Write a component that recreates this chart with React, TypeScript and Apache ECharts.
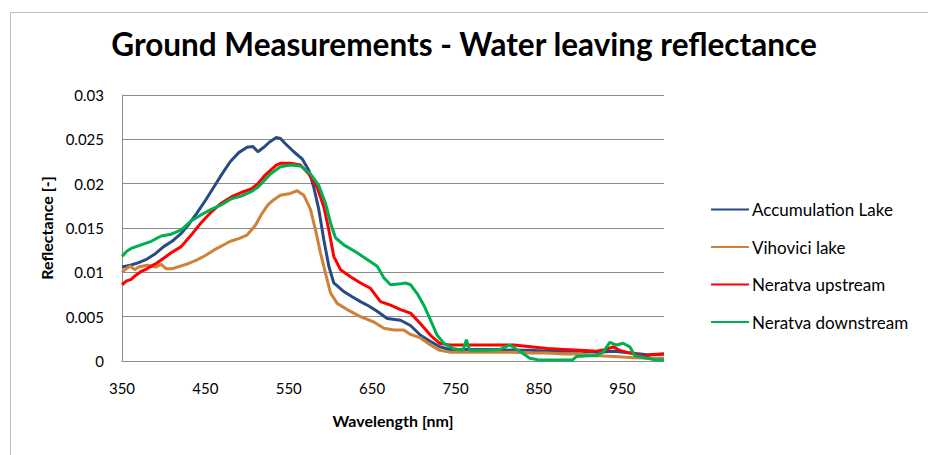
import React, { useEffect, useRef } from "react";
import * as echarts from "echarts";

const TITLE = "Ground Measurements - Water leaving reflectance";
const X_NAME = "Wavelength [nm]";
const Y_NAME = "Reflectance [-]";
const SERIES_NAMES = ["Accumulation Lake", "Vihovici lake", "Neratva upstream", "Neratva downstream"];
const COLORS = ["#264C81", "#CF8139", "#FF0000", "#00B050"];
const X_LABELS = [350, 450, 550, 650, 750, 850, 950];

const accWl = [350, 360, 370, 380, 390, 400, 410, 420, 430, 440, 450, 460, 470, 480, 490, 500, 507, 513, 520, 527, 535, 540, 546, 556, 566, 574, 580, 586, 592, 598, 604, 615, 625, 636, 646, 656, 668, 684, 696, 708, 720, 731, 743, 760, 780, 800, 820, 840, 860, 880, 900, 920, 940, 960, 980, 1000];
const accVal = [0.0106, 0.0108, 0.0111, 0.0115, 0.0121, 0.0129, 0.0135, 0.0143, 0.0154, 0.0167, 0.0181, 0.0196, 0.0211, 0.0225, 0.0235, 0.0241, 0.0242, 0.0236, 0.0241, 0.0247, 0.0252, 0.0251, 0.0245, 0.0236, 0.0228, 0.0215, 0.0196, 0.0171, 0.0137, 0.0107, 0.0088, 0.0079, 0.0073, 0.0067, 0.0062, 0.0056, 0.0048, 0.0046, 0.0040, 0.0029, 0.0022, 0.0016, 0.0013, 0.0013, 0.0013, 0.0013, 0.0012, 0.0012, 0.0011, 0.0011, 0.0011, 0.0010, 0.0011, 0.0009, 0.0007, 0.0008];

const vihWl = [350, 355, 360, 365, 370, 380, 390, 397, 403, 410, 420, 430, 440, 450, 460, 470, 480, 490, 500, 510, 517, 525, 532, 540, 552, 560, 568, 576, 582, 588, 594, 600, 608, 620, 636, 652, 664, 676, 688, 696, 708, 720, 731, 743, 760, 780, 800, 820, 840, 860, 880, 900, 920, 940, 960, 980, 1000];
const vihVal = [0.0100, 0.0104, 0.0107, 0.0103, 0.0106, 0.0108, 0.0106, 0.0109, 0.0104, 0.0104, 0.0107, 0.0110, 0.0114, 0.0119, 0.0125, 0.0130, 0.0135, 0.0138, 0.0142, 0.0153, 0.0165, 0.0176, 0.0182, 0.0187, 0.0189, 0.0192, 0.0187, 0.0171, 0.0148, 0.0122, 0.0099, 0.0077, 0.0065, 0.0058, 0.0050, 0.0044, 0.0037, 0.0035, 0.0035, 0.0030, 0.0026, 0.0018, 0.0012, 0.0010, 0.0010, 0.0010, 0.0010, 0.0010, 0.0009, 0.0009, 0.0008, 0.0008, 0.0006, 0.0005, 0.0004, 0.0003, 0.0003];

const upWl = [350, 355, 361, 367, 373, 380, 385, 391, 397, 409, 421, 433, 445, 457, 469, 481, 493, 505, 513, 521, 528, 535, 540, 552, 564, 574, 584, 592, 598, 604, 612, 624, 636, 648, 660, 672, 684, 696, 708, 720, 731, 743, 760, 780, 800, 820, 840, 860, 880, 900, 919, 930, 939, 947, 955, 965, 975, 985, 1000];
const upVal = [0.0086, 0.0090, 0.0092, 0.0097, 0.0101, 0.0104, 0.0107, 0.0110, 0.0114, 0.0122, 0.0129, 0.0142, 0.0156, 0.0168, 0.0178, 0.0185, 0.0190, 0.0194, 0.0200, 0.0209, 0.0215, 0.0221, 0.0223, 0.0223, 0.0221, 0.0211, 0.0196, 0.0174, 0.0148, 0.0118, 0.0103, 0.0095, 0.0088, 0.0082, 0.0067, 0.0063, 0.0058, 0.0054, 0.0042, 0.0029, 0.0020, 0.0018, 0.0018, 0.0018, 0.0018, 0.0018, 0.0016, 0.0014, 0.0013, 0.0012, 0.0011, 0.0013, 0.0016, 0.0012, 0.0010, 0.0008, 0.0005, 0.0007, 0.0008];

const downWl = [350, 356, 361, 367, 373, 385, 397, 409, 421, 433, 445, 457, 469, 481, 493, 505, 513, 521, 528, 540, 552, 564, 576, 586, 594, 600, 606, 616, 632, 648, 656, 664, 672, 684, 690, 696, 704, 712, 720, 728, 736, 747, 759, 763, 767, 783, 803, 815, 827, 839, 851, 870, 890, 895, 910, 919, 927, 935, 943, 951, 959, 965, 975, 991, 1000];
const downVal = [0.0118, 0.0124, 0.0127, 0.0129, 0.0131, 0.0135, 0.0141, 0.0143, 0.0148, 0.0158, 0.0165, 0.0171, 0.0176, 0.0183, 0.0186, 0.0191, 0.0196, 0.0204, 0.0211, 0.0219, 0.0221, 0.0220, 0.0211, 0.0198, 0.0178, 0.0156, 0.0139, 0.0131, 0.0122, 0.0112, 0.0107, 0.0094, 0.0086, 0.0087, 0.0088, 0.0086, 0.0076, 0.0063, 0.0046, 0.0029, 0.0020, 0.0014, 0.0012, 0.0024, 0.0012, 0.0012, 0.0013, 0.0018, 0.0011, 0.0003, 0.0001, 0.0001, 0.0001, 0.0005, 0.0006, 0.0006, 0.0010, 0.0021, 0.0018, 0.0020, 0.0016, 0.0006, 0.0004, 0.0001, 0.0001];

const WL = [accWl, vihWl, upWl, downWl];
const VALS = [accVal, vihVal, upVal, downVal];

export default function App() {
  const ref = useRef<HTMLDivElement>(null);
  useEffect(() => {
    if (!ref.current) return;
    const chart = echarts.init(ref.current, null, { renderer: "svg" });
    const font = "Lato, 'Open Sans', sans-serif";
    chart.setOption({
      animation: false,
      backgroundColor: "#ffffff",
      textStyle: { fontFamily: font },
      title: {
        text: TITLE,
        left: "center",
        top: 28,
        padding: 0,
        textStyle: { fontFamily: font, fontSize: 31.5, fontWeight: "bold", color: "#000" },
      },
      graphic: [
        {
          type: "rect",
          shape: { x: 10.5, y: 12.5, width: 1200, height: 1200 },
          style: { fill: "none", stroke: "#bfbfbf", lineWidth: 1 },
          silent: true,
        },
      ],
      grid: { left: 122, top: 95, right: 264, bottom: 94, containLabel: false },
      legend: {
        orient: "vertical",
        left: 710,
        top: 201,
        padding: 0,
        itemWidth: 38,
        itemHeight: 14,
        itemGap: 20.5,
        itemStyle: { opacity: 0 },
        textStyle: { fontFamily: font, fontSize: 17, color: "#000", padding: [0, 0, 0, -2] },
        data: SERIES_NAMES,
      },
      xAxis: {
        type: "value",
        min: 350,
        max: 1000,
        interval: 50,
        name: X_NAME,
        nameLocation: "middle",
        nameGap: 51,
        nameTextStyle: { fontFamily: font, fontSize: 16, fontWeight: "bold", color: "#000" },
        axisLine: { show: true, lineStyle: { color: "#8c8c8c", width: 1 } },
        axisTick: { show: false },
        splitLine: { show: false },
        axisLabel: {
          fontFamily: font,
          fontSize: 15,
          color: "#000",
          margin: 19,
          showMaxLabel: false,
          formatter: (v: number) => (X_LABELS.indexOf(v) >= 0 ? String(v) : ""),
        },
      },
      yAxis: {
        type: "value",
        min: 0,
        max: 0.03,
        interval: 0.005,
        name: Y_NAME,
        nameLocation: "middle",
        nameGap: 64,
        nameTextStyle: { fontFamily: font, fontSize: 16, fontWeight: "bold", color: "#000" },
        axisLine: { show: true, lineStyle: { color: "#8c8c8c", width: 1 } },
        axisTick: { show: false },
        splitLine: { show: true, lineStyle: { color: "#8c8c8c", width: 1 } },
        axisLabel: { fontFamily: font, fontSize: 15, color: "#000", margin: 18 },
      },
      series: SERIES_NAMES.map((name, i) => ({
        name,
        type: "line",
        symbol: "none",
        showSymbol: false,
        color: COLORS[i],
        lineStyle: { color: COLORS[i], width: 3 },
        data: WL[i].map((w, j) => [w, VALS[i][j]]),
      })),
    });
    return () => chart.dispose();
  }, []);
  return (
    <div
      ref={ref}
      style={{ position: "absolute", left: 0, top: 0, width: 928, height: 455, background: "#fff" }}
    />
  );
}
